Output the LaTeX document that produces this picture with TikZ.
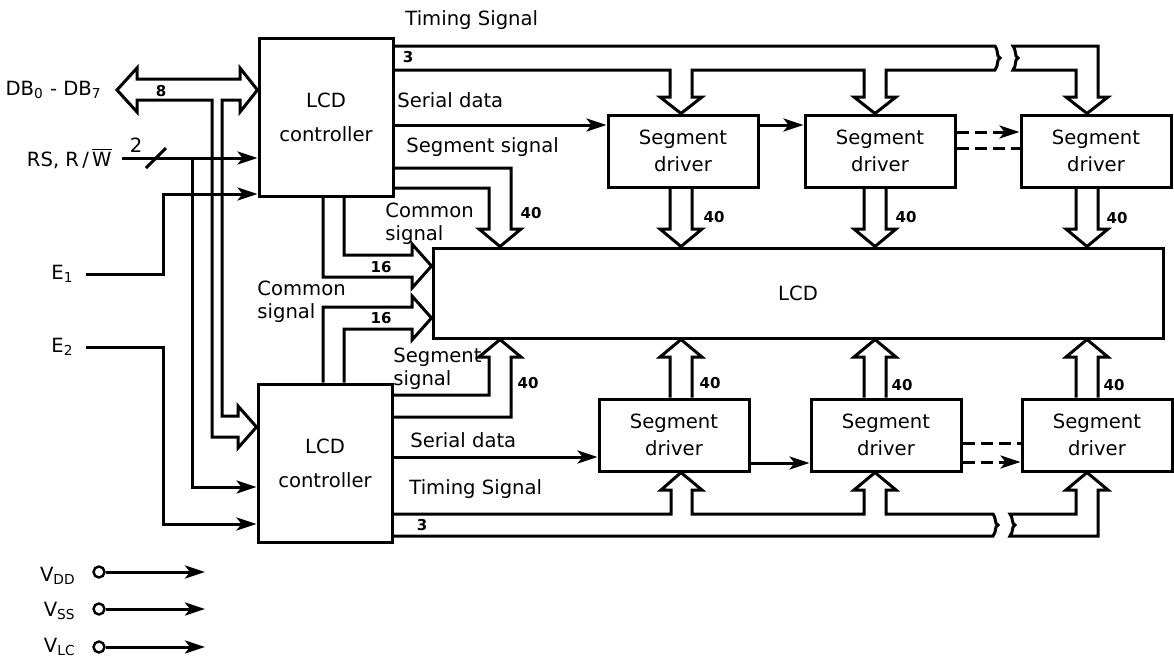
\documentclass[tikz,border=0pt]{standalone}
\usepackage{fontspec}
\setmainfont{DejaVu Sans}
\usepackage{tikz}
\usetikzlibrary{arrows.meta,positioning}

\begin{document}
\begin{tikzpicture}[
		x=0.5pt, y=-0.5pt,
		bloc/.style={draw, line width=1.5pt, align=center, font=\fontsize{9.8}{17}\selectfont},
		ctrl/.style={bloc, minimum width=67pt, minimum height=79pt},
		driver/.style={bloc, minimum width=75pt, minimum height=36pt, font=\fontsize{9.8}{13.5}\selectfont},
		txt/.style={inner sep=0pt, align=left, font=\fontsize{9.8}{11.5}\selectfont},
		num/.style={inner sep=0pt, font=\fontsize{7.5}{8}\selectfont\bfseries},
		vterm/.style={circle, draw, line width=1.2pt, minimum size=5.5pt, inner sep=0pt},
		wire/.style={line width=1.5pt},
		bus/.style={line width=1.5pt, line join=miter},
		dashline/.style={dash pattern=on 6pt off 3pt},
		>={Stealth[length=10pt,width=6.5pt,inset=2.5pt]}
		]
		\useasboundingbox (0,0) rectangle (1174,659);
		
		% Les blocs
		\node[ctrl] (ctrl1) at (326,117) {LCD\\controller};
		\node[ctrl] (ctrl2) at (325,463) {LCD\\controller};
		\node[bloc, minimum width=365pt, minimum height=45pt] (lcd) at (798,293) {LCD};
		\node[driver] (sd1) at (683,151) {Segment\\driver};
		\node[driver] (sd2) at (880,151) {Segment\\driver};
		\node[driver] (sd3) at (1096,151) {Segment\\driver};
		\node[driver] (sd4) at (674,435) {Segment\\driver};
		\node[driver] (sd5) at (886,435) {Segment\\driver};
		\node[driver] (sd6) at (1097,435) {Segment\\driver};
		
		% Les entrees
		\node[txt, anchor=east] (db) at (102,90) {DB\textsubscript{0} - DB\textsubscript{7}};
		\node[txt, anchor=east] (rsrw) at (112,158) {RS, R\,/\,$\overline{\hbox{W}}$};
		\node[txt, anchor=east] (e1) at (74,274) {E\textsubscript{1}};
		\node[txt, anchor=east] (e2) at (74,347) {E\textsubscript{2}};
		\coordinate (dbend) at (117,90);
		\coordinate (rsj) at (192,158);
		
		\draw[bus] (137,79) -- (137,68) -- (dbend) -- (137,112) -- (137,100) -- (212,100) -- (212,437) -- (238,437) -- (238,448) -- (ctrl2.west |- 0,427) -- (238,406) -- (238,416) -- (222,416) -- (222,100) -- (240,100) -- (240,112) -- (ctrl1.west |- 0,90) -- (240,68) -- (240,79) -- cycle;
		\node[num] (nb8) at (161,91) {8};
		
		\draw[wire,->] ([xshift=5pt]rsrw.east) -- (ctrl1.west |- 0,158);
		\draw[wire] (146,168) -- (166,148);
		\node[txt] (nb2) at (136,145) {2};
		\draw[wire,->] (rsj) |- (ctrl2.west |- 0,487);
		\draw[wire,->] ([xshift=6pt]e1.east) -| (163,194) -- (ctrl1.west |- 0,194);
		\draw[wire,->] ([xshift=6pt]e2.east) -| (163,524) -- (ctrl2.west |- 0,524);
		
		% Les alimentations
		\node[txt, anchor=east] (vdd) at (76,576) {V\textsubscript{DD}};
		\node[txt, anchor=east] (vss) at (76,611) {V\textsubscript{SS}};
		\node[txt, anchor=east] (vlc) at (76,647) {V\textsubscript{LC}};
		\node[vterm] (tdd) at (99,572) {};
		\node[vterm] (tss) at (99,609) {};
		\node[vterm] (tlc) at (99,647) {};
		\coordinate (odd) at (205,572);
		\coordinate (oss) at (205,609);
		\coordinate (olc) at (205,647);
		\draw[wire,->] (tdd) -- (odd);
		\draw[wire,->] (tss) -- (oss);
		\draw[wire,->] (tlc) -- (olc);
		
		% Controleur du haut
		\node[txt, anchor=west] (tim1) at (405,20) {Timing Signal};
		\node[num] (nb3a) at (408,57) {3};
		\node[txt, anchor=west] (ser1) at (397,100) {Serial data};
		\node[txt, anchor=west] (seg1) at (406,147) {Segment signal};
		\node[txt, anchor=west] (com1) at (385,224) {Common\\signal};
		\node[num] (nb16a) at (381,267) {16};
		\node[num] (nb40a) at (531,213) {40};
		
		\draw[bus] (ctrl1.east |- 0,46) -- (995,46) .. controls (999,52) and (996,56) .. (1000,58) .. controls (996,60) and (999,65) .. (995,70) -- (886,70) -- (886,97) -- (896,97) -- (sd2.north -| 875,0) -- (854,97) -- (864,97) -- (864,70) -- (692,70) -- (692,97) -- (702,97) -- (sd1.north -| 681,0) -- (660,97) -- (670,97) -- (670,70) -- (ctrl1.east |- 0,70);
		\draw[bus] (1013,46) .. controls (1017,52) and (1014,56) .. (1018,58) .. controls (1014,60) and (1017,65) .. (1013,70) -- (1076,70) -- (1076,97) -- (1066,97) -- (sd3.north -| 1087,0) -- (1108,97) -- (1098,97) -- (1098,46) -- cycle;
		
		\draw[wire,->] (ctrl1.east |- 0,125) -- (sd1.west |- 0,125);
		\draw[wire,->] (sd1.east |- 0,125) -- (sd2.west |- 0,125);
		\draw[wire,dashline,->] (sd2.east |- 0,132) -- (sd3.west |- 0,132);
		\draw[wire,dashline] (sd2.east |- 0,148) -- (sd3.west |- 0,148);
		
		\draw[bus] (ctrl1.east |- 0,188) -| (489,229) -- (479,229) -- (lcd.north -| 500,0) -- (521,229) -- (511,229) |- (ctrl1.east |- 0,168);
		\draw[bus] (ctrl1.south -| 323,0) |- (412,277) -- (412,288) -- (lcd.west |- 0,266) -- (412,244) -- (412,255) -| (ctrl1.south -| 344,0);
		
		% Drivers du haut vers LCD
		\draw[bus] (sd1.south -| 670,0) -- (670,229) -- (660,229) -- (lcd.north -| 681,0) -- (702,229) -- (692,229) -- (sd1.south -| 692,0);
		\draw[bus] (sd2.south -| 864,0) -- (864,229) -- (854,229) -- (lcd.north -| 875,0) -- (896,229) -- (886,229) -- (sd2.south -| 886,0);
		\draw[bus] (sd3.south -| 1076,0) -- (1076,229) -- (1066,229) -- (lcd.north -| 1087,0) -- (1108,229) -- (1098,229) -- (sd3.south -| 1098,0);
		\node[num] (nb40b) at (714,217) {40};
		\node[num] (nb40c) at (906,217) {40};
		\node[num] (nb40d) at (1117,218) {40};
		
		% Controleur du bas
		\node[txt, anchor=west] (com2) at (257,302) {Common\\signal};
		\node[num] (nb16b) at (381,318) {16};
		\node[txt, anchor=west] (seg2) at (393,369) {Segment\\signal};
		\node[num] (nb40e) at (528,383) {40};
		\node[txt, anchor=west] (ser2) at (410,440) {Serial data};
		\node[txt, anchor=west] (tim2) at (409,489) {Timing Signal};
		\node[num] (nb3b) at (422,525) {3};
		
		\draw[bus] (ctrl2.north -| 323,0) |- (412,307) -- (412,296) -- (lcd.west |- 0,318) -- (412,340) -- (412,329) -| (ctrl2.north -| 344,0);
		\draw[bus] (ctrl2.east |- 0,395) -| (489,357) -- (479,357) -- (lcd.south -| 500,0) -- (521,357) -- (511,357) |- (ctrl2.east |- 0,417);
		
		\draw[wire,->] (ctrl2.east |- 0,457) -- (sd4.west |- 0,457);
		\draw[wire,->] (sd4.east |- 0,463) -- (sd5.west |- 0,463);
		\draw[wire,dashline] (sd5.east |- 0,443) -- (sd6.west |- 0,443);
		\draw[wire,dashline,->] (sd5.east |- 0,462) -- (sd6.west |- 0,462);
		
		\draw[bus] (ctrl2.east |- 0,514) -- (671,514) -- (671,490) -- (661,490) -- (sd4.south -| 681,0) -- (702,490) -- (692,490) -- (692,514) -- (864,514) -- (864,490) -- (854,490) -- (sd5.south -| 875,0) -- (896,490) -- (886,490) -- (886,514) -- (993,514) .. controls (997,520) and (994,523) .. (998,525) .. controls (994,527) and (997,531) .. (993,536) -- (ctrl2.east |- 0,536);
		\draw[bus] (1010,514) .. controls (1014,520) and (1011,523) .. (1015,525) .. controls (1011,527) and (1014,531) .. (1010,536) -- (1098,536) -- (1098,490) -- (1108,490) -- (sd6.south -| 1087,0) -- (1066,490) -- (1076,490) -- (1076,514) -- cycle;
		
		% Drivers du bas vers LCD
		\draw[bus] (sd4.north -| 670,0) -- (670,357) -- (660,357) -- (lcd.south -| 681,0) -- (702,357) -- (692,357) -- (sd4.north -| 692,0);
		\draw[bus] (sd5.north -| 864,0) -- (864,357) -- (854,357) -- (lcd.south -| 875,0) -- (896,357) -- (886,357) -- (sd5.north -| 886,0);
		\draw[bus] (sd6.north -| 1076,0) -- (1076,357) -- (1066,357) -- (lcd.south -| 1087,0) -- (1108,357) -- (1098,357) -- (sd6.north -| 1098,0);
		\node[num] (nb40f) at (710,383) {40};
		\node[num] (nb40g) at (902,385) {40};
		\node[num] (nb40h) at (1114,385) {40};
	\end{tikzpicture}
\end{document}
